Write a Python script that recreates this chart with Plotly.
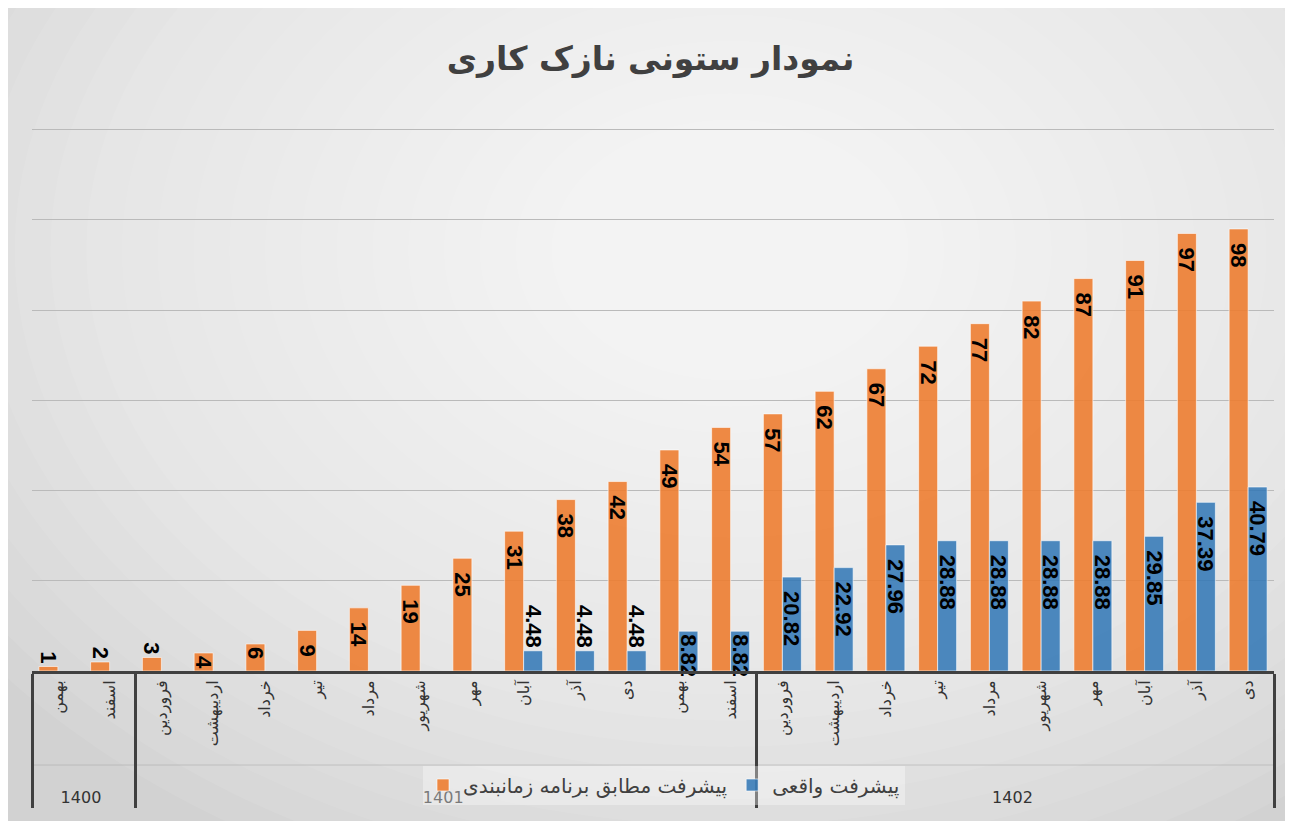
import plotly.graph_objects as go

# ---------------- data ----------------
years = ["1400"] * 2 + ["1401"] * 12 + ["1402"] * 10
months = ["بهمن", "اسفند",
          "فروردین", "اردیبهشت", "خرداد", "تیر", "مرداد", "شهریور",
          "مهر", "آبان", "آذر", "دی", "بهمن", "اسفند",
          "فروردین", "اردیبهشت", "خرداد", "تیر", "مرداد", "شهریور",
          "مهر", "آبان", "آذر", "دی"]
planned = [1, 2, 3, 4, 6, 9, 14, 19, 25, 31, 38, 42, 49, 54,
           57, 62, 67, 72, 77, 82, 87, 91, 97, 98]
actual = [None, None, None, None, None, None, None, None, None,
          4.48, 4.48, 4.48, 8.82, 8.82,
          20.82, 22.92, 27.96, 28.88, 28.88, 28.88, 28.88, 29.85, 37.39, 40.79]
name_planned = "پیشرفت مطابق برنامه زمانبندی"
name_actual = "پیشرفت واقعی"
title_text = "نمودار ستونی نازک کاری"

# ---------------- layout geometry (page pixels; page body has an 8px margin) ----------------
OFF = 8
PAGE_W, PAGE_H = 1293, 821
W, H = PAGE_W - OFF, PAGE_H - OFF
PLOT_L, PLOT_R, PLOT_T, PLOT_B = 32, 1274, 127, 671  # page coords of plot area
Y_MAX = 120.6
ML, MR = PLOT_L - OFF, PAGE_W - PLOT_R
MT, MB = PLOT_T - OFF, PAGE_H - PLOT_B
PW, PH = PLOT_R - PLOT_L, PLOT_B - PLOT_T


def px_x(px):
    return (px - PLOT_L) / PW


def px_y(py):
    return (PLOT_B - py) / PH


# make repeated month names unique per year (multicategory would merge them),
# and pad them so the label row has the reference depth
seen = {}
inner = []
for m in months:
    n = seen.get(m, 0)
    seen[m] = n + 1
    inner.append("\u2002\u2002\u2002" + m + "\u200b" * n)


def labels(vals, out_max, pad_min):
    texts, poss = [], []
    for v in vals:
        if v is None:
            texts.append("")
            poss.append("none")
            continue
        t = f"{v:g}"
        if v <= out_max:
            texts.append(t)
            poss.append("outside")
        elif v < pad_min:
            texts.append(t)
            poss.append("inside")
        else:
            texts.append("\u2002" + t)
            poss.append("inside")
    return texts, poss


p_text, p_pos = labels(planned, 3, 9)
a_text, a_pos = labels(actual, 5, 20)

label_font = dict(family="Liberation Sans", size=22, color="black", weight="bold")

fig = go.Figure()
fig.add_trace(go.Bar(
    x=[years, inner], y=planned, name=name_planned,
    marker=dict(color="rgba(237,125,49,0.9)", line=dict(color="rgba(255,255,255,0.6)", width=1)),
    text=p_text, textposition=p_pos, textangle=90,
    textfont=label_font, insidetextanchor="end", constraintext="none",
    cliponaxis=False,
))
fig.add_trace(go.Bar(
    x=[years, inner], y=actual, name=name_actual,
    marker=dict(color="rgba(47,117,181,0.85)", line=dict(color="rgba(255,255,255,0.6)", width=1)),
    text=a_text, textposition=a_pos, textangle=90,
    textfont=label_font, insidetextanchor="end", constraintext="none",
    cliponaxis=False,
))

# background: gray base + radial-ish white gradient
shapes = [
    dict(type="rect", xref="paper", yref="paper", layer="below",
         x0=px_x(OFF - 2), x1=px_x(PAGE_W + 5), y0=px_y(OFF - 2), y1=px_y(PAGE_H + 5),
         fillcolor="#d2d2d2", line=dict(width=0)),
]
N = 26
cx, cy, rx, ry = 730, 250, 930, 680
for i in range(N):
    f = 1 - i / N
    shapes.append(dict(type="circle", xref="paper", yref="paper", layer="below",
                       x0=px_x(cx - rx * f), x1=px_x(cx + rx * f),
                       y0=px_y(cy + ry * f), y1=px_y(cy - ry * f),
                       fillcolor="white", opacity=0.075, line=dict(width=0)))
# faint separator between month and year label rows
shapes.append(dict(type="line", xref="paper", yref="paper", layer="below",
                   x0=0, x1=1, y0=px_y(765), y1=px_y(765),
                   line=dict(color="rgba(175,175,175,0.6)", width=1)))

fig.update_layout(
    width=W, height=H,
    margin=dict(l=ML, r=MR, t=MT, b=MB, pad=0, autoexpand=False),
    paper_bgcolor="#e4e4e4", plot_bgcolor="rgba(0,0,0,0)",
    title=dict(text=title_text, x=0.5, xanchor="center", y=1 - (58 - OFF) / H, yanchor="middle",
               font=dict(family="DejaVu Sans", size=33, color="#404040", weight="bold")),
    barmode="group", bargap=0.266, bargroupgap=0,
    uniformtext=dict(minsize=22, mode="show"),
    showlegend=True,
    legend=dict(orientation="h", x=px_x(423), xanchor="left", y=px_y(785), yanchor="middle",
                bgcolor="rgba(255,255,255,0.35)", borderwidth=0,
                font=dict(family="DejaVu Sans", size=20, color="#404040"),
                traceorder="normal"),
    shapes=shapes,
    font=dict(family="DejaVu Sans"),
)
fig.update_xaxes(
    type="multicategory", tickangle=-90, ticks="",
    showline=True, linecolor="#404040", linewidth=3,
    showdividers=True, dividercolor="#404040", dividerwidth=3,
    tickfont=dict(family="DejaVu Sans", size=16, color="#333333"),
    showgrid=False, automargin=False,
)
fig.update_yaxes(
    range=[0, Y_MAX], dtick=20, showticklabels=False, ticks="",
    showgrid=True, gridcolor="#bababa", gridwidth=1,
    zeroline=False, showline=False, automargin=False,
)

fig.write_html("out.html")
